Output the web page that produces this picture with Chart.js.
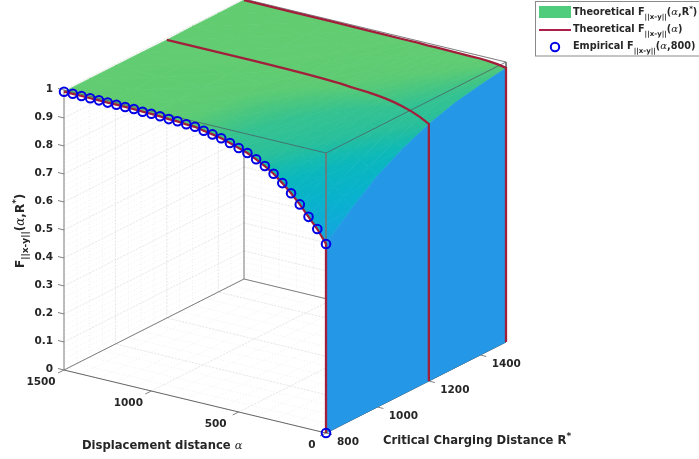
<!DOCTYPE html>
<html>
<head>
<meta charset="utf-8">
<title>Theoretical and empirical F</title>
<script src="https://cdn.jsdelivr.net/npm/chart.js@4"></script>
<style>
  html, body { margin: 0; padding: 0; background: #fff; overflow: hidden; }
  #plot { display: block; }
</style>
</head>
<body>
<canvas id="plot" width="699" height="459"></canvas>
<script>
// values
const alphaGrid = [0, 50, 100, 150, 200, 250, 300, 350, 400, 450, 500, 600, 700, 800, 1000, 1250, 1500];
const chargeGrid = [800, 900, 1000, 1100, 1200, 1300, 1400, 1500];
const surfaceF800 = [.675, .721, .757, .794, .826, .855, .881, .901, .9175, .9325, .943, .9625, .9746, .9825, .990, .9936, .994];
const surfaceF900 = [.755, .79, .82, .848, .872, .892, .91, .924, .936, .946, .955, .966, .976, .983, .989, .992, .994];
const surfaceF1000 = [.826, .85, .87, .89, .906, .92, .932, .942, .95, .957, .963, .972, .979, .985, .99, .992, .994];
const surfaceF1100 = [.878, .897, .913, .926, .938, .947, .955, .961, .966, .971, .975, .981, .986, .989, .992, .993, .994];
const surfaceF1200 = [.918, .935, .948, .958, .966, .972, .976, .979, .981, .983, .986, .989, .991, .992, .993, .993, .993];
const surfaceF1300 = [.946, .958, .966, .972, .976, .979, .982, .984, .985, .986, .987, .989, .992, .993, .994, .994, .995];
const surfaceF1400 = [.964, .972, .978, .982, .985, .987, .988, .989, .99, .99, .991, .992, .993, .994, .995, .995, .995];
const surfaceF1500 = [.979, .985, .988, .99, .99, .991, .991, .992, .992, .992, .993, .993, .994, .994, .995, .995, .996];
const surfaceRows = [surfaceF800, surfaceF900, surfaceF1000, surfaceF1100, surfaceF1200, surfaceF1300, surfaceF1400, surfaceF1500];

const curveAlpha = [1500, 1450, 1400, 1350, 1300, 1250, 1200, 1150, 1100, 1050, 1000, 950, 900, 850, 800, 750, 700, 650, 600, 550, 500, 450, 400, 350, 300, 250, 200, 150, 100, 50, 0, 0];
const curveF800 = [.994, .994, .9936, .993, .993, .9925, .9925, .992, .992, .99, .99, .9886, .986, .9857, .9825, .981, .9746, .969, .9625, .953, .943, .9325, .9175, .901, .881, .855, .826, .794, .757, .721, .675, 0];

const zTicks = ['0', '0.1', '0.2', '0.3', '0.4', '0.5', '0.6', '0.7', '0.8', '0.9', '1'];
const alphaTicks = [0, 500, 1000, 1500];
const chargeTicks = [800, 1000, 1200, 1400];

const colorStops = [
  [.65, [36, 152, 230]], [.68, [25, 160, 225]], [.72, [15, 170, 218]], [.79, [8, 178, 205]], [.86, [10, 183, 190]], [.89, [20, 187, 175]],
  [.92, [40, 191, 155]], [.96, [52, 194, 145]], [.975, [72, 198, 128]], [.985, [92, 203, 116]], [1, [101, 205, 112]]
];

const BOLD = '"DejaVu Sans", sans-serif';
const WALL_BLUE = '#2498e6';
const RED = '#a21f3c';

const canvasCtx = document.getElementById('plot').getContext('2d');

// view of the box: orthographic, one call per corner of the plot
function proj(a, R, F) {
  return {
    x: 326 - 262 * a / 1500 + 180 * (R - 800) / 700,
    y: 433 - 63 * a / 1500 - 91 * (R - 800) / 700 - 280 * F
  };
}

function colorFor(f) {
  for (let i = 1; i < colorStops.length; i++) {
    if (f <= colorStops[i][0]) {
      const s0 = colorStops[i - 1], s1 = colorStops[i];
      const t = Math.max(0, (f - s0[0]) / (s1[0] - s0[0]));
      const c = s0[1].map((v, k) => Math.round(v + (s1[1][k] - v) * t));
      return `rgb(${c[0]},${c[1]},${c[2]})`;
    }
  }
  return 'rgb(101,205,112)';
}

function lineSet(label, data, color, width, dash) {
  return {
    label: label, data: data, showLine: true, fill: false, pointRadius: 0,
    borderColor: color, borderWidth: width, borderDash: dash || [], tension: 0
  };
}

function range(start, stop, step) {
  const out = [];
  for (let v = start; v <= stop + 1e-9; v += step) out.push(v);
  return out;
}

// all the back planes share one segment list per grid class
function gridSegments(alphas, charges, fs) {
  const pts = [];
  const seg = (p, q) => { pts.push(p, q, { x: NaN, y: NaN }); };
  alphas.forEach(a => {
    seg(proj(a, 800, 0), proj(a, 1500, 0));
    seg(proj(a, 1500, 0), proj(a, 1500, 1));
  });
  charges.forEach(R => {
    seg(proj(0, R, 0), proj(1500, R, 0));
    seg(proj(1500, R, 0), proj(1500, R, 1));
  });
  fs.forEach(f => {
    seg(proj(1500, 800, f), proj(1500, 1500, f));
    seg(proj(1500, 1500, f), proj(0, 1500, f));
  });
  return pts;
}

// built bottom layer first, reversed at the end since Chart.js paints the first dataset last
const layers = [];

layers.push(lineSet('minor grid', gridSegments(range(0, 1500, 100), range(800, 1500, 50), range(0, 1, .02)), '#e8e8e8', .6, [1, 2]));
layers.push(lineSet('major grid', gridSegments(alphaTicks, chargeTicks, range(0, 1, .1)), '#e0e0e0', .7, [2, 1.5]));

const boxGray = '#808080';
layers.push(lineSet('box', [proj(1500, 800, 0), proj(1500, 800, 1)], boxGray, 1));
layers.push(lineSet('box', [proj(1500, 800, 0), proj(1500, 1500, 0)], boxGray, 1));
layers.push(lineSet('box', [proj(1500, 1500, 0), proj(1500, 1500, 1)], boxGray, 1));
layers.push(lineSet('box', [proj(1500, 1500, 0), proj(0, 1500, 0)], boxGray, 1));
layers.push(lineSet('box', [proj(1500, 1500, 1), proj(0, 1500, 1)], boxGray, 1));
layers.push(lineSet('box', [proj(1500, 800, 0), proj(0, 800, 0)], '#666666', 1));
layers.push(lineSet('box', [proj(0, 800, 0), proj(0, 1500, 0)], '#444444', 1));
alphaTicks.forEach(a => {
  const p = proj(a, 800, 0);
  layers.push(lineSet('tick', [p, { x: p.x - 6, y: p.y + 3 }], boxGray, 1));
});
chargeTicks.forEach(R => {
  const p = proj(0, R, 0);
  layers.push(lineSet('tick', [p, { x: p.x + 6, y: p.y + 1.5 }], boxGray, 1));
});
zTicks.forEach(t => {
  const p = proj(1500, 800, Number(t));
  layers.push(lineSet('tick', [p, { x: p.x - 6, y: p.y - 1.5 }], boxGray, 1));
});

// shading across one triangle, the colour follows F between its three corners.
// the scales run 1:1 with the canvas so the gradient can take the same numbers
function triangleShade(p, q, r, fp, fq, fr) {
  const fMin = Math.min(fp, fq, fr), fMax = Math.max(fp, fq, fr);
  const ux = q.x - p.x, uy = q.y - p.y, vx = r.x - p.x, vy = r.y - p.y;
  const det = ux * vy - uy * vx;
  if (Math.abs(det) < .05 || fMax - fMin < 1e-5) return colorFor((fp + fq + fr) / 3);
  const gx = ((fq - fp) * vy - (fr - fp) * uy) / det;
  const gy = ((fr - fp) * ux - (fq - fp) * vx) / det;
  const g2 = gx * gx + gy * gy;
  const g = canvasCtx.createLinearGradient(
    p.x + gx * (fMin - fp) / g2, p.y + gy * (fMin - fp) / g2,
    p.x + gx * (fMax - fp) / g2, p.y + gy * (fMax - fp) / g2
  );
  [0, .25, .5, .75, 1].forEach(t => g.addColorStop(t, colorFor(fMin + (fMax - fMin) * t)));
  return g;
}

function pushTriangle(p, q, r, fp, fq, fr) {
  const shade = triangleShade(p, q, r, fp, fq, fr);
  layers.push({
    label: 'surface', data: [p, q, r, p], showLine: true, fill: 'shape', backgroundColor: shade,
    borderColor: shade, borderWidth: .8, pointRadius: 0, tension: 0
  });
}

// surface cells, far corner first
for (let j = chargeGrid.length - 2; j >= 0; j--) {
  for (let i = alphaGrid.length - 2; i >= 0; i--) {
    const f00 = surfaceRows[j][i], f10 = surfaceRows[j][i + 1], f01 = surfaceRows[j + 1][i], f11 = surfaceRows[j + 1][i + 1];
    const p00 = proj(alphaGrid[i], chargeGrid[j], f00), p10 = proj(alphaGrid[i + 1], chargeGrid[j], f10);
    const p01 = proj(alphaGrid[i], chargeGrid[j + 1], f01), p11 = proj(alphaGrid[i + 1], chargeGrid[j + 1], f11);
    pushTriangle(p10, p11, p01, f10, f11, f01);
    pushTriangle(p00, p10, p01, f00, f10, f01);
  }
}

// wall at alpha = 0
const wallTop = chargeGrid.map((R, j) => proj(0, R, surfaceRows[j][0]));
const wall = wallTop.concat([proj(0, 1500, 0), proj(0, 800, 0), wallTop[0]]);
layers.push({
  label: 'wall', data: wall, showLine: true, fill: 'shape', backgroundColor: WALL_BLUE,
  borderColor: WALL_BLUE, borderWidth: .5, pointRadius: 0, tension: 0
});

// box edges that sit in front of the surface
const frontEdge = '#4a6068';
layers.push(lineSet('box', [proj(1500, 800, 1), proj(0, 800, 1)], frontEdge, .8));
layers.push(lineSet('box', [proj(0, 800, 1), proj(0, 1500, 1)], frontEdge, .8));
layers.push(lineSet('box', [proj(0, 800, 1), proj(0, 800, 0)], '#707878', 1));
layers.push(lineSet('box', [proj(0, 1500, 1), proj(0, 1500, 0)], '#707878', 1));

// theoretical curves
const curve800 = curveAlpha.map((a, i) => proj(a, 800, curveF800[i]));
const curve1200 = alphaGrid.map((a, i) => proj(a, 1200, surfaceF1200[i])).reverse().concat([proj(0, 1200, 0)]);
const curve1500 = alphaGrid.map((a, i) => proj(a, 1500, surfaceF1500[i])).reverse().concat([proj(0, 1500, 0)]);
layers.push(lineSet('Theoretical R=1500', curve1500, RED, 2.3));
layers.push(lineSet('Theoretical R=1200', curve1200, RED, 2.3));
layers.push(lineSet('Theoretical R=800', curve800, RED, 2.3));

// empirical circles
layers.push({
  label: 'Empirical', data: curve800, showLine: false, pointRadius: 4.3, pointBorderWidth: 2,
  pointBackgroundColor: 'rgba(0,0,0,0)', pointBorderColor: '#0000e6'
});

layers.reverse();

// text runs with sub/superscripts, x grows along the run
function drawRuns(ctx, x, y, runs, angle) {
  ctx.save();
  ctx.translate(x, y);
  if (angle) ctx.rotate(angle);
  ctx.textBaseline = 'alphabetic';
  ctx.textAlign = 'left';
  let pos = 0;
  runs.forEach(r => {
    ctx.font = r.font;
    ctx.fillStyle = r.color || '#262626';
    ctx.fillText(r.t, pos, r.dy || 0);
    pos += ctx.measureText(r.t).width;
  });
  ctx.restore();
}

const labelsPlugin = {
  id: 'labels3d',
  afterDraw(chart) {
    const ctx = chart.ctx;
    const sx = chart.scales.x, sy = chart.scales.y;
    const tick = 'bold 10.5px ' + BOLD;

    ctx.save();
    ctx.font = tick;
    ctx.fillStyle = '#262626';
    ctx.textBaseline = 'middle';
    ctx.textAlign = 'right';
    zTicks.forEach(t => {
      const p = proj(1500, 800, Number(t));
      ctx.fillText(t, sx.getPixelForValue(p.x) - 11, sy.getPixelForValue(p.y) - 1);
    });
    ctx.textAlign = 'center';
    alphaTicks.forEach(a => {
      const p = proj(a, 800, 0);
      ctx.fillText(String(a), sx.getPixelForValue(p.x) - (a === 0 ? 14 : 23), sy.getPixelForValue(p.y) + 12);
    });
    chargeTicks.forEach(R => {
      const p = proj(0, R, 0);
      ctx.fillText(String(R), sx.getPixelForValue(p.x) + (R === 800 ? 22 : 26), sy.getPixelForValue(p.y) + 9);
    });
    ctx.restore();

    const greek = 'italic 11.5px "DejaVu Serif", serif';
    const axisFont = 'bold 11.6px ' + BOLD;
    drawRuns(ctx, 82, 449, [
      { t: 'Displacement distance ', font: axisFont },
      { t: '\u03b1', font: greek }
    ]);
    drawRuns(ctx, 383, 444, [
      { t: 'Critical Charging Distance R', font: axisFont },
      { t: '*', font: 'bold 9px ' + BOLD, dy: -5 }
    ]);
    drawRuns(ctx, 24, 268, [
      { t: 'F', font: 'bold 12px ' + BOLD },
      { t: '||x-y||', font: 'bold 9px ' + BOLD, dy: 4 },
      { t: '(', font: 'bold 12px ' + BOLD },
      { t: '\u03b1', font: 'italic 12px "DejaVu Serif", serif' },
      { t: ',R', font: 'bold 12px ' + BOLD },
      { t: '*', font: 'bold 9px ' + BOLD, dy: -5 },
      { t: ')', font: 'bold 12px ' + BOLD }
    ], -Math.PI / 2);

    // legend box hangs off the right edge as in the reference
    ctx.save();
    ctx.fillStyle = '#fff';
    ctx.strokeStyle = '#8a8a8a';
    ctx.lineWidth = 1;
    ctx.fillRect(535.5, 1.5, 170, 54.5);
    ctx.strokeRect(535.5, 1.5, 170, 54.5);
    ctx.fillStyle = '#50cc7d';
    ctx.fillRect(539, 6, 32, 12);
    ctx.strokeStyle = '#ad1f48';
    ctx.lineWidth = 2;
    ctx.beginPath();
    ctx.moveTo(539, 30);
    ctx.lineTo(571, 30);
    ctx.stroke();
    ctx.strokeStyle = '#0000e6';
    ctx.beginPath();
    ctx.arc(555, 47, 4.2, 0, Math.PI * 2);
    ctx.stroke();
    ctx.restore();

    const legFont = 'bold 9.7px ' + BOLD;
    const legSub = 'bold 7px ' + BOLD;
    const legGreek = 'italic 10px "DejaVu Serif", serif';
    const fLabel = (word) => [
      { t: word + ' F', font: legFont },
      { t: '||x-y||', font: legSub, dy: 4 },
      { t: '(', font: legFont },
      { t: '\u03b1', font: legGreek }
    ];
    drawRuns(ctx, 573, 15, fLabel('Theoretical').concat([
      { t: ',R', font: legFont },
      { t: '*', font: legSub, dy: -4 },
      { t: ')', font: legFont }
    ]));
    drawRuns(ctx, 573, 32, fLabel('Theoretical').concat([{ t: ')', font: legFont }]));
    drawRuns(ctx, 573, 49, fLabel('Empirical').concat([{ t: ',800)', font: legFont }]));
  }
};

new Chart(canvasCtx, {
  type: 'scatter',
  data: { datasets: layers },
  options: {
    responsive: false,
    animation: false,
    devicePixelRatio: 1,
    layout: { padding: 0, autoPadding: false },
    plugins: { legend: { display: false }, tooltip: { enabled: false } },
    scales: {
      x: { type: 'linear', min: 0, max: 699, display: false },
      y: { type: 'linear', min: 0, max: 459, reverse: true, display: false }
    }
  },
  plugins: [labelsPlugin]
});
</script>
</body>
</html>
